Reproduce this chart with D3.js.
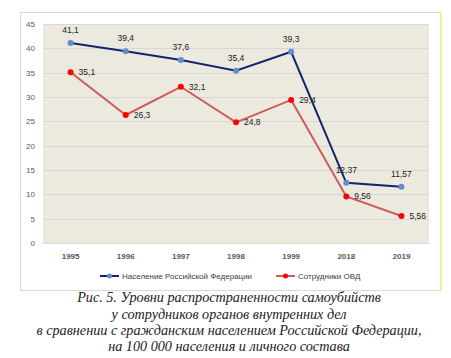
<!DOCTYPE html>
<html><head><meta charset="utf-8">
<script src="https://cdn.jsdelivr.net/npm/d3@7"></script>
<style>
body{margin:0;background:#fff;}
svg{display:block;}
</style></head>
<body><svg id="c" width="451" height="358"></svg>
<script>
const categories = ["1995","1996","1997","1998","1999","2018","2019"];
const population = [41.1, 39.4, 37.6, 35.4, 39.3, 12.37, 11.57];
const popLabels = ["41,1","39,4","37,6","35,4","39,3","12,37","11,57"];
const police = [35.1, 26.3, 32.1, 24.8, 29.4, 9.56, 5.56];
const policeLabels = ["35,1","26,3","32,1","24,8","29,4","9,56","5,56"];
const yTicks = [0,5,10,15,20,25,30,35,40,45];
const seriesNames = ["Население Российской Федерации","Сотрудники ОВД"];
const captionLines = ["Рис. 5. Уровни распространенности самоубийств",
  "у сотрудников органов внутренних дел",
  "в сравнении с гражданским населением Российской Федерации,",
  "на 100 000 населения и личного состава"];

const svg = d3.select("#c");
const font = "'Liberation Sans', Arial, sans-serif";

// frame
svg.append("rect").attr("x",20.5).attr("y",12.5).attr("width",420).attr("height",278)
  .attr("fill","#fff").attr("stroke","#d9d9d9");
svg.append("line").attr("x1",441).attr("x2",441).attr("y1",12).attr("y2",291)
  .attr("stroke","#f5f07a").attr("stroke-width",1.5);

const x = d3.scaleBand().domain(categories).range([43,429]);
const y = d3.scaleLinear().domain([0,45]).range([243,24]);

svg.append("rect").attr("x",43).attr("y",24).attr("width",386).attr("height",219).attr("fill","#ece9df");

// grid
svg.append("g").selectAll("line").data(yTicks).join("line")
  .attr("x1",43).attr("x2",429).attr("y1",d=>Math.round(y(d))+0.5).attr("y2",d=>Math.round(y(d))+0.5)
  .attr("stroke","#d6d6d6").attr("stroke-width",1);

// y axis
const ya = svg.append("g").attr("transform","translate(43,0)")
  .call(d3.axisLeft(y).tickValues(yTicks).tickSize(0).tickPadding(8));
ya.select(".domain").remove();
ya.selectAll("text").attr("font-family",font).attr("font-size",8).attr("fill","#595959");

// x axis
const xa = svg.append("g").attr("transform","translate(0,243)")
  .call(d3.axisBottom(x).tickSize(0).tickPadding(10));
xa.select(".domain").remove();
xa.selectAll("text").attr("font-family",font).attr("font-size",8).attr("font-weight","bold").attr("fill","#595959");

const cx = d => x(d) + x.bandwidth()/2;
const line = d3.line().x((d,i)=>cx(categories[i])).y(d=>y(d));

svg.append("path").datum(police).attr("d",line).attr("fill","none")
  .attr("stroke","#cd5c5c").attr("stroke-width",2);
svg.append("path").datum(population).attr("d",line).attr("fill","none")
  .attr("stroke","#13246b").attr("stroke-width",2);

svg.append("g").selectAll("circle").data(police).join("circle")
  .attr("cx",(d,i)=>cx(categories[i])).attr("cy",d=>y(d)).attr("r",3).attr("fill","#ff0000");
svg.append("g").selectAll("circle").data(population).join("circle")
  .attr("cx",(d,i)=>cx(categories[i])).attr("cy",d=>y(d)).attr("r",3).attr("fill","#5b8fd0");

// labels
svg.append("g").selectAll("text").data(population).join("text")
  .attr("x",(d,i)=>cx(categories[i])).attr("y",d=>y(d)-10)
  .attr("text-anchor","middle").attr("font-family",font).attr("font-size",8.5).attr("fill","#222")
  .text((d,i)=>popLabels[i]);
svg.append("g").selectAll("text").data(police).join("text")
  .attr("x",(d,i)=>cx(categories[i])+8).attr("y",d=>y(d)+3)
  .attr("font-family",font).attr("font-size",8.5).attr("fill","#222")
  .text((d,i)=>policeLabels[i]);

// legend
const lg = svg.append("g");
const items = [{name:seriesNames[0],line:"#13246b",dot:"#5b8fd0",x:100},{name:seriesNames[1],line:"#cd5c5c",dot:"#ff0000",x:276}];
items.forEach(it=>{
  lg.append("line").attr("x1",it.x).attr("x2",it.x+19).attr("y1",276).attr("y2",276).attr("stroke",it.line).attr("stroke-width",2);
  lg.append("circle").attr("cx",it.x+9.5).attr("cy",276).attr("r",2.5).attr("fill",it.dot);
  lg.append("text").attr("x",it.x+22).attr("y",279).attr("font-family",font).attr("font-size",8).attr("fill","#404040").text(it.name);
});

// caption
svg.append("g").selectAll("text").data(captionLines).join("text")
  .attr("x",229).attr("y",(d,i)=>[302,318.5,334.5,351][i]).attr("text-anchor","middle")
  .attr("font-family","'Liberation Serif', 'Times New Roman', serif").attr("font-style","italic")
  .attr("font-size",14.2).attr("fill","#222").text(d=>d);
</script></body></html>
